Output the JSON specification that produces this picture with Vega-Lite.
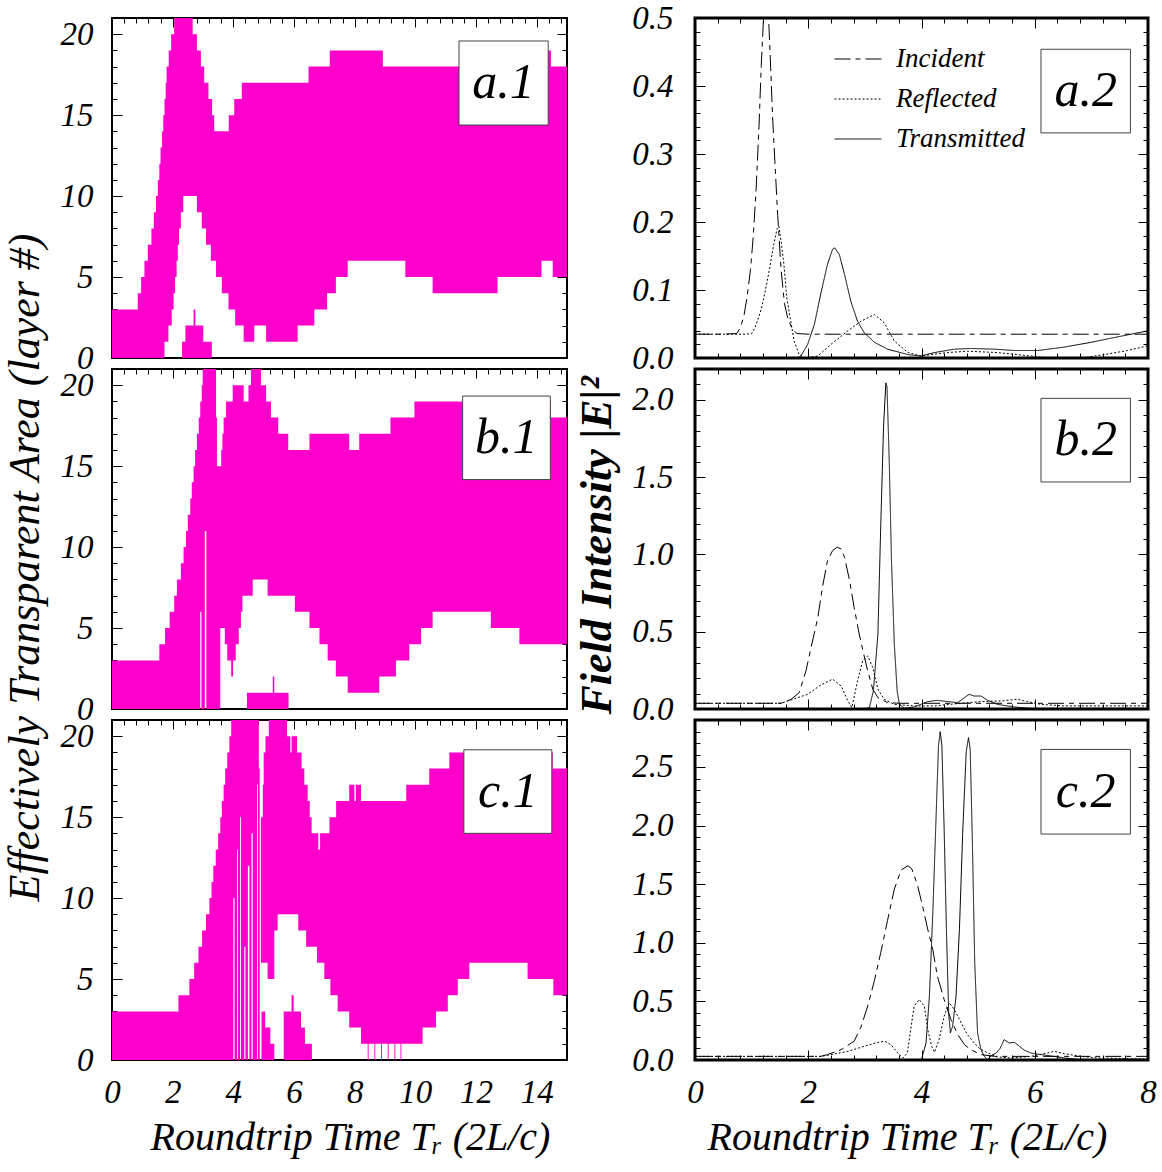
{
"$schema": "https://vega.github.io/schema/vega-lite/v6.json",
"background": "white",
"padding": {"left": 1, "top": 0, "right": 5, "bottom": 5},
"spacing": 583,
"bounds": "flush",
"resolve": {"scale": {"strokeDash": "independent"}, "legend": {"strokeDash": "independent"}},
"config": {
  "view": {"stroke": "black", "strokeWidth": 2},
  "axis": {"domain": false, "grid": false, "tickColor": "black", "tickWidth": 1, "labelFont": "Liberation Serif", "labelFontStyle": "italic", "labelFontSize": 33, "labelColor": "black", "labelFlush": false, "labelOverlap": false, "titleFont": "Liberation Serif", "titleFontStyle": "italic", "titleFontWeight": "normal", "titleColor": "black", "titleFontSize": 40}
},
"hconcat": [
{
 "vconcat": [
 {
  "width": 455, "height": 340,
  "layer": [
   {
    "data": {"values": [
{"t":0,"lo":0,"hi":3,"b":"m"},{"t":0.85,"lo":0,"hi":4,"b":"m"},{"t":0.96,"lo":0,"hi":5,"b":"m"},{"t":1.07,"lo":0,"hi":6,"b":"m"},{"t":1.18,"lo":0,"hi":7,"b":"m"},{"t":1.30,"lo":0,"hi":8,"b":"m"},{"t":1.38,"lo":0,"hi":9,"b":"m"},{"t":1.45,"lo":0,"hi":10,"b":"m"},{"t":1.51,"lo":0,"hi":11,"b":"m"},{"t":1.56,"lo":0,"hi":12,"b":"m"},{"t":1.60,"lo":0,"hi":13,"b":"m"},{"t":1.65,"lo":0,"hi":14,"b":"m"},{"t":1.69,"lo":0,"hi":15,"b":"m"},{"t":1.73,"lo":1,"hi":16,"b":"m"},{"t":1.77,"lo":1,"hi":17,"b":"m"},{"t":1.80,"lo":1,"hi":18,"b":"m"},{"t":1.86,"lo":2,"hi":18,"b":"m"},{"t":1.87,"lo":2,"hi":19,"b":"m"},{"t":1.95,"lo":2,"hi":20,"b":"m"},{"t":1.97,"lo":3,"hi":20,"b":"m"},{"t":2.03,"lo":4,"hi":20,"b":"m"},{"t":2.05,"lo":4,"hi":21,"b":"m"},{"t":2.08,"lo":5,"hi":21,"b":"m"},{"t":2.13,"lo":6,"hi":21,"b":"m"},{"t":2.17,"lo":7,"hi":21,"b":"m"},{"t":2.21,"lo":8,"hi":21,"b":"m"},{"t":2.27,"lo":9,"hi":21,"b":"m"},{"t":2.35,"lo":10,"hi":21,"b":"m"},{"t":2.66,"lo":10,"hi":20,"b":"m"},{"t":2.80,"lo":9,"hi":19,"b":"m"},{"t":2.93,"lo":9,"hi":18,"b":"m"},{"t":2.96,"lo":8,"hi":18,"b":"m"},{"t":3.04,"lo":8,"hi":17,"b":"m"},{"t":3.10,"lo":7,"hi":17,"b":"m"},{"t":3.18,"lo":7,"hi":16,"b":"m"},{"t":3.26,"lo":6,"hi":16,"b":"m"},{"t":3.30,"lo":6,"hi":15,"b":"m"},{"t":3.37,"lo":6,"hi":14,"b":"m"},{"t":3.43,"lo":5,"hi":14,"b":"m"},{"t":3.62,"lo":4,"hi":14,"b":"m"},{"t":3.84,"lo":3,"hi":14,"b":"m"},{"t":3.85,"lo":3,"hi":15,"b":"m"},{"t":4.03,"lo":3,"hi":16,"b":"m"},{"t":4.06,"lo":2,"hi":16,"b":"m"},{"t":4.28,"lo":2,"hi":17,"b":"m"},{"t":4.34,"lo":1,"hi":17,"b":"m"},{"t":4.69,"lo":2,"hi":17,"b":"m"},{"t":5.08,"lo":1,"hi":17,"b":"m"},{"t":6.12,"lo":2,"hi":17,"b":"m"},{"t":6.48,"lo":2,"hi":18,"b":"m"},{"t":6.67,"lo":3,"hi":18,"b":"m"},{"t":7.09,"lo":4,"hi":18,"b":"m"},{"t":7.18,"lo":4,"hi":19,"b":"m"},{"t":7.38,"lo":5,"hi":19,"b":"m"},{"t":7.77,"lo":6,"hi":19,"b":"m"},{"t":8.93,"lo":6,"hi":18,"b":"m"},{"t":9.67,"lo":5,"hi":18,"b":"m"},{"t":10.57,"lo":4,"hi":18,"b":"m"},{"t":12.71,"lo":5,"hi":18,"b":"m"},{"t":14.16,"lo":6,"hi":18,"b":"m"},{"t":14.36,"lo":6,"hi":19,"b":"m"},{"t":14.47,"lo":6,"hi":18,"b":"m"},{"t":14.53,"lo":5,"hi":18,"b":"m"},{"t":15,"lo":5,"hi":18,"b":"m"},
{"t":2.31,"lo":0,"hi":1,"b":"i1"},{"t":2.42,"lo":0,"hi":2,"b":"i1"},{"t":2.69,"lo":0,"hi":3,"b":"i1"},{"t":2.75,"lo":0,"hi":2,"b":"i1"},{"t":3.01,"lo":0,"hi":1,"b":"i1"},{"t":3.29,"lo":0,"hi":1,"b":"i1"}
    ]},
    "mark": {"type": "area", "interpolate": "step-after", "color": "#ff00cc", "clip": true},
    "encoding": {
     "x": {"field": "t", "type": "quantitative", "scale": {"domain": [0, 15], "nice": false, "zero": false}, "axis": null},
     "y": {"field": "hi", "type": "quantitative", "stack": null, "scale": {"domain": [0, 21], "nice": false}, "axis": {"orient": "left", "values": [0,1,2,3,4,5,6,7,8,9,10,11,12,13,14,15,16,17,18,19,20], "tickSize": {"condition": {"test": "datum.value % 5 === 0", "value": -10}, "value": -5}, "labelExpr": "datum.value % 5 === 0 ? datum.label : ''", "labelOverlap": false, "labelPadding": 29, "title": null}},
     "y2": {"field": "lo"},
     "detail": {"field": "b"}
    }
   },
   {
    "data": {"values": [{"x1": 11.44, "x2": 14.38, "y1": 14.39, "y2": 19.58}]},
    "mark": {"type": "rect", "fill": "white", "stroke": "#444444", "strokeWidth": 1},
    "encoding": {
     "x": {"field": "x1", "type": "quantitative", "axis": {"orient": "top", "values": [0,0.4,0.8,1.2,1.6,2,2.4,2.8,3.2,3.6,4,4.4,4.8,5.2,5.6,6,6.4,6.8,7.2,7.6,8,8.4,8.8,9.2,9.6,10,10.4,10.8,11.2,11.6,12,12.4,12.8,13.2,13.6,14,14.4,14.8], "labels": false, "tickSize": {"condition": {"test": "datum.value % 2 === 0", "value": -9}, "value": -5}, "title": null}},
     "x2": {"field": "x2"},
     "y": {"field": "y1", "type": "quantitative", "axis": {"orient": "right", "values": [0,1,2,3,4,5,6,7,8,9,10,11,12,13,14,15,16,17,18,19,20], "labels": false, "tickSize": {"condition": {"test": "datum.value % 5 === 0", "value": -10}, "value": -5}, "title": null}},
     "y2": {"field": "y2"}
    }
   },
   {
    "data": {"values": [{"xc": 12.91, "yc": 16.98, "lab": "a.1"}]},
    "mark": {"type": "text", "font": "Liberation Serif", "fontStyle": "italic", "fontSize": 50, "align": "center", "baseline": "middle", "color": "black"},
    "encoding": {
     "x": {"field": "xc", "type": "quantitative", "axis": null},
     "y": {"field": "yc", "type": "quantitative", "axis": null},
     "text": {"field": "lab"}
    }
   }
  ],
  "resolve": {"axis": {"x": "independent", "y": "independent"}}
 },
 {
  "width": 455, "height": 340,
  "layer": [
   {
    "data": {"values": [
{"t":0,"lo":0,"hi":3,"b":"m"},{"t":1.56,"lo":0,"hi":4,"b":"m"},{"t":1.75,"lo":0,"hi":5,"b":"m"},{"t":1.90,"lo":0,"hi":6,"b":"m"},{"t":2.05,"lo":0,"hi":7,"b":"m"},{"t":2.14,"lo":0,"hi":8,"b":"m"},{"t":2.27,"lo":0,"hi":9,"b":"m"},{"t":2.36,"lo":0,"hi":10,"b":"m"},{"t":2.44,"lo":0,"hi":11,"b":"m"},{"t":2.50,"lo":0,"hi":12,"b":"m"},{"t":2.58,"lo":0,"hi":13,"b":"m"},{"t":2.63,"lo":0,"hi":14,"b":"m"},{"t":2.69,"lo":0,"hi":15,"b":"m"},{"t":2.74,"lo":0,"hi":16,"b":"m"},{"t":2.80,"lo":0,"hi":17,"b":"m"},{"t":2.86,"lo":0,"hi":18,"b":"m"},{"t":2.91,"lo":6,"hi":19,"b":"m"},{"t":2.95,"lo":0,"hi":19,"b":"m"},{"t":2.96,"lo":0,"hi":20,"b":"m"},{"t":2.99,"lo":0,"hi":21,"b":"m"},{"t":3.06,"lo":11,"hi":21,"b":"m"},{"t":3.11,"lo":0,"hi":21,"b":"m"},{"t":3.43,"lo":0,"hi":18,"b":"m"},{"t":3.46,"lo":0,"hi":15,"b":"m"},{"t":3.57,"lo":5,"hi":15,"b":"m"},{"t":3.60,"lo":5,"hi":16,"b":"m"},{"t":3.64,"lo":5,"hi":17,"b":"m"},{"t":3.68,"lo":5,"hi":18,"b":"m"},{"t":3.72,"lo":4,"hi":18,"b":"m"},{"t":3.76,"lo":4,"hi":19,"b":"m"},{"t":3.80,"lo":3,"hi":19,"b":"m"},{"t":3.93,"lo":2,"hi":19,"b":"m"},{"t":3.98,"lo":2,"hi":20,"b":"m"},{"t":3.99,"lo":3,"hi":20,"b":"m"},{"t":4.08,"lo":4,"hi":20,"b":"m"},{"t":4.18,"lo":5,"hi":20,"b":"m"},{"t":4.25,"lo":6,"hi":20,"b":"m"},{"t":4.30,"lo":7,"hi":20,"b":"m"},{"t":4.34,"lo":7,"hi":19,"b":"m"},{"t":4.50,"lo":7,"hi":20,"b":"m"},{"t":4.58,"lo":7,"hi":21,"b":"m"},{"t":4.64,"lo":8,"hi":21,"b":"m"},{"t":4.91,"lo":8,"hi":20,"b":"m"},{"t":5.08,"lo":8,"hi":19,"b":"m"},{"t":5.13,"lo":7,"hi":19,"b":"m"},{"t":5.24,"lo":7,"hi":18,"b":"m"},{"t":5.48,"lo":7,"hi":17,"b":"m"},{"t":5.81,"lo":7,"hi":16,"b":"m"},{"t":6.03,"lo":6,"hi":16,"b":"m"},{"t":6.51,"lo":5,"hi":17,"b":"m"},{"t":6.84,"lo":4,"hi":17,"b":"m"},{"t":7.11,"lo":3,"hi":17,"b":"m"},{"t":7.38,"lo":2,"hi":17,"b":"m"},{"t":7.77,"lo":1,"hi":17,"b":"m"},{"t":7.82,"lo":1,"hi":16,"b":"m"},{"t":8.15,"lo":1,"hi":17,"b":"m"},{"t":8.81,"lo":2,"hi":17,"b":"m"},{"t":9.18,"lo":2,"hi":18,"b":"m"},{"t":9.36,"lo":3,"hi":18,"b":"m"},{"t":9.80,"lo":4,"hi":18,"b":"m"},{"t":9.97,"lo":4,"hi":19,"b":"m"},{"t":10.19,"lo":5,"hi":19,"b":"m"},{"t":10.57,"lo":6,"hi":19,"b":"m"},{"t":12.49,"lo":5,"hi":19,"b":"m"},{"t":13.43,"lo":4,"hi":19,"b":"m"},{"t":14.47,"lo":4,"hi":18,"b":"m"},{"t":15,"lo":4,"hi":18,"b":"m"},
{"t":4.45,"lo":0,"hi":1,"b":"i1"},{"t":5.30,"lo":0,"hi":2,"b":"i1"},{"t":5.35,"lo":0,"hi":1,"b":"i1"},{"t":5.82,"lo":0,"hi":1,"b":"i1"}
    ]},
    "mark": {"type": "area", "interpolate": "step-after", "color": "#ff00cc", "clip": true},
    "encoding": {
     "x": {"field": "t", "type": "quantitative", "scale": {"domain": [0, 15], "nice": false, "zero": false}, "axis": null},
     "y": {"field": "hi", "type": "quantitative", "stack": null, "scale": {"domain": [0, 21], "nice": false}, "axis": {"orient": "left", "values": [0,1,2,3,4,5,6,7,8,9,10,11,12,13,14,15,16,17,18,19,20], "tickSize": {"condition": {"test": "datum.value % 5 === 0", "value": -10}, "value": -5}, "labelExpr": "datum.value % 5 === 0 ? datum.label : ''", "labelOverlap": false, "labelPadding": 29, "title": "Effectively Transparent Area (layer #)", "titleFontSize": 44, "titleX": -74, "titleY": 198, "titleAngle": 270, "titleAlign": "center", "titleBaseline": "alphabetic"}},
     "y2": {"field": "lo"},
     "detail": {"field": "b"}
    }
   },
   {
    "data": {"values": [{"x1": 11.56, "x2": 14.45, "y1": 14.17, "y2": 19.33}]},
    "mark": {"type": "rect", "fill": "white", "stroke": "#444444", "strokeWidth": 1},
    "encoding": {
     "x": {"field": "x1", "type": "quantitative", "axis": {"orient": "top", "values": [0,0.4,0.8,1.2,1.6,2,2.4,2.8,3.2,3.6,4,4.4,4.8,5.2,5.6,6,6.4,6.8,7.2,7.6,8,8.4,8.8,9.2,9.6,10,10.4,10.8,11.2,11.6,12,12.4,12.8,13.2,13.6,14,14.4,14.8], "labels": false, "tickSize": {"condition": {"test": "datum.value % 2 === 0", "value": -9}, "value": -5}, "title": null}},
     "x2": {"field": "x2"},
     "y": {"field": "y1", "type": "quantitative", "axis": {"orient": "right", "values": [0,1,2,3,4,5,6,7,8,9,10,11,12,13,14,15,16,17,18,19,20], "labels": false, "tickSize": {"condition": {"test": "datum.value % 5 === 0", "value": -10}, "value": -5}, "title": null}},
     "y2": {"field": "y2"}
    }
   },
   {
    "data": {"values": [{"xc": 13.0, "yc": 16.75, "lab": "b.1"}]},
    "mark": {"type": "text", "font": "Liberation Serif", "fontStyle": "italic", "fontSize": 50, "align": "center", "baseline": "middle", "color": "black"},
    "encoding": {
     "x": {"field": "xc", "type": "quantitative", "axis": null},
     "y": {"field": "yc", "type": "quantitative", "axis": null},
     "text": {"field": "lab"}
    }
   }
  ],
  "resolve": {"axis": {"x": "independent", "y": "independent"}}
 },
 {
  "width": 455, "height": 340,
  "layer": [
   {
    "data": {"values": [
{"t":0,"lo":0,"hi":3,"b":"m"},{"t":2.19,"lo":0,"hi":4,"b":"m"},{"t":2.55,"lo":0,"hi":5,"b":"m"},{"t":2.71,"lo":0,"hi":6,"b":"m"},{"t":2.85,"lo":0,"hi":7,"b":"m"},{"t":2.97,"lo":0,"hi":8,"b":"m"},{"t":3.10,"lo":0,"hi":9,"b":"m"},{"t":3.21,"lo":0,"hi":10,"b":"m"},{"t":3.28,"lo":0,"hi":11,"b":"m"},{"t":3.34,"lo":0,"hi":12,"b":"m"},{"t":3.42,"lo":0,"hi":13,"b":"m"},{"t":3.50,"lo":0,"hi":14,"b":"m"},{"t":3.57,"lo":0,"hi":15,"b":"m"},{"t":3.62,"lo":0,"hi":16,"b":"m"},{"t":3.68,"lo":0,"hi":17,"b":"m"},{"t":3.73,"lo":0,"hi":18,"b":"m"},{"t":3.80,"lo":0,"hi":19,"b":"m"},{"t":3.87,"lo":0,"hi":20,"b":"m"},{"t":3.93,"lo":0,"hi":21,"b":"m"},{"t":4.00,"lo":10,"hi":21,"b":"m"},{"t":4.04,"lo":0,"hi":21,"b":"m"},{"t":4.12,"lo":13,"hi":21,"b":"m"},{"t":4.15,"lo":0,"hi":21,"b":"m"},{"t":4.22,"lo":15,"hi":21,"b":"m"},{"t":4.25,"lo":0,"hi":21,"b":"m"},{"t":4.36,"lo":7,"hi":21,"b":"m"},{"t":4.40,"lo":0,"hi":21,"b":"m"},{"t":4.48,"lo":12,"hi":21,"b":"m"},{"t":4.53,"lo":0,"hi":21,"b":"m"},{"t":4.60,"lo":14,"hi":21,"b":"m"},{"t":4.64,"lo":0,"hi":21,"b":"m"},{"t":4.78,"lo":17,"hi":21,"b":"m"},{"t":4.81,"lo":0,"hi":21,"b":"m"},{"t":4.84,"lo":0,"hi":18,"b":"m"},{"t":4.87,"lo":15,"hi":15,"b":"m"},{"t":4.91,"lo":6,"hi":15,"b":"m"},{"t":4.97,"lo":6,"hi":17,"b":"m"},{"t":5.00,"lo":6,"hi":19,"b":"m"},{"t":5.06,"lo":6,"hi":20,"b":"m"},{"t":5.13,"lo":5,"hi":20,"b":"m"},{"t":5.17,"lo":5,"hi":21,"b":"m"},{"t":5.35,"lo":8,"hi":21,"b":"m"},{"t":5.46,"lo":9,"hi":21,"b":"m"},{"t":5.77,"lo":9,"hi":20,"b":"m"},{"t":5.88,"lo":9,"hi":19,"b":"m"},{"t":5.92,"lo":9,"hi":20,"b":"m"},{"t":6.10,"lo":9,"hi":19,"b":"m"},{"t":6.14,"lo":8,"hi":19,"b":"m"},{"t":6.25,"lo":8,"hi":18,"b":"m"},{"t":6.34,"lo":8,"hi":17,"b":"m"},{"t":6.40,"lo":7,"hi":17,"b":"m"},{"t":6.45,"lo":7,"hi":16,"b":"m"},{"t":6.52,"lo":7,"hi":15,"b":"m"},{"t":6.58,"lo":7,"hi":14,"b":"m"},{"t":6.76,"lo":6,"hi":14,"b":"m"},{"t":6.80,"lo":6,"hi":13,"b":"m"},{"t":6.86,"lo":6,"hi":14,"b":"m"},{"t":7.00,"lo":5,"hi":14,"b":"m"},{"t":7.17,"lo":5,"hi":15,"b":"m"},{"t":7.20,"lo":4,"hi":15,"b":"m"},{"t":7.39,"lo":4,"hi":16,"b":"m"},{"t":7.44,"lo":3,"hi":16,"b":"m"},{"t":7.82,"lo":2,"hi":17,"b":"m"},{"t":7.99,"lo":2,"hi":16,"b":"m"},{"t":8.04,"lo":2,"hi":17,"b":"m"},{"t":8.21,"lo":1,"hi":16,"b":"m"},{"t":8.43,"lo":0,"hi":16,"b":"m"},{"t":8.46,"lo":1,"hi":16,"b":"m"},{"t":8.65,"lo":0,"hi":16,"b":"m"},{"t":8.68,"lo":1,"hi":16,"b":"m"},{"t":8.87,"lo":0,"hi":16,"b":"m"},{"t":8.90,"lo":1,"hi":16,"b":"m"},{"t":9.09,"lo":0,"hi":16,"b":"m"},{"t":9.12,"lo":1,"hi":16,"b":"m"},{"t":9.31,"lo":0,"hi":16,"b":"m"},{"t":9.34,"lo":1,"hi":16,"b":"m"},{"t":9.51,"lo":0,"hi":16,"b":"m"},{"t":9.54,"lo":1,"hi":16,"b":"m"},{"t":9.70,"lo":1,"hi":17,"b":"m"},{"t":10.24,"lo":2,"hi":17,"b":"m"},{"t":10.46,"lo":2,"hi":18,"b":"m"},{"t":10.68,"lo":3,"hi":18,"b":"m"},{"t":11.07,"lo":4,"hi":18,"b":"m"},{"t":11.12,"lo":4,"hi":19,"b":"m"},{"t":11.40,"lo":5,"hi":19,"b":"m"},{"t":11.78,"lo":6,"hi":19,"b":"m"},{"t":13.70,"lo":5,"hi":19,"b":"m"},{"t":14.53,"lo":5,"hi":18,"b":"m"},{"t":14.55,"lo":4,"hi":18,"b":"m"},{"t":15,"lo":4,"hi":18,"b":"m"},
{"t":4.93,"lo":0,"hi":3,"b":"i1"},{"t":5.05,"lo":0,"hi":2,"b":"i1"},{"t":5.22,"lo":0,"hi":1,"b":"i1"},{"t":5.35,"lo":0,"hi":1,"b":"i1"},
{"t":5.66,"lo":0,"hi":3,"b":"i2"},{"t":5.92,"lo":0,"hi":4,"b":"i2"},{"t":5.99,"lo":0,"hi":3,"b":"i2"},{"t":6.23,"lo":0,"hi":2,"b":"i2"},{"t":6.36,"lo":0,"hi":1,"b":"i2"},{"t":6.59,"lo":0,"hi":1,"b":"i2"}
    ]},
    "mark": {"type": "area", "interpolate": "step-after", "color": "#ff00cc", "clip": true},
    "encoding": {
     "x": {"field": "t", "type": "quantitative", "scale": {"domain": [0, 15], "nice": false, "zero": false}, "axis": {"orient": "bottom", "values": [0,2,4,6,8,10,12,14], "format": "d", "ticks": false, "tickSize": 0, "labelPadding": 16, "labelOverlap": false, "labelFlush": false, "title": "Roundtrip Time Tᵣ (2L/c)", "titleX": 238, "titleY": 89, "titleAlign": "center", "titleBaseline": "alphabetic", "titleAngle": 0}},
     "y": {"field": "hi", "type": "quantitative", "stack": null, "scale": {"domain": [0, 21], "nice": false}, "axis": {"orient": "left", "values": [0,1,2,3,4,5,6,7,8,9,10,11,12,13,14,15,16,17,18,19,20], "tickSize": {"condition": {"test": "datum.value % 5 === 0", "value": -10}, "value": -5}, "labelExpr": "datum.value % 5 === 0 ? datum.label : ''", "labelOverlap": false, "labelPadding": 29, "title": null}},
     "y2": {"field": "lo"},
     "detail": {"field": "b"}
    }
   },
   {
    "data": {"values": [{"x1": 11.6, "x2": 14.5, "y1": 14.0, "y2": 19.16}]},
    "mark": {"type": "rect", "fill": "white", "stroke": "#444444", "strokeWidth": 1},
    "encoding": {
     "x": {"field": "x1", "type": "quantitative", "axis": {"orient": "top", "values": [0,0.4,0.8,1.2,1.6,2,2.4,2.8,3.2,3.6,4,4.4,4.8,5.2,5.6,6,6.4,6.8,7.2,7.6,8,8.4,8.8,9.2,9.6,10,10.4,10.8,11.2,11.6,12,12.4,12.8,13.2,13.6,14,14.4,14.8], "labels": false, "tickSize": {"condition": {"test": "datum.value % 2 === 0", "value": -9}, "value": -5}, "title": null}},
     "x2": {"field": "x2"},
     "y": {"field": "y1", "type": "quantitative", "axis": {"orient": "right", "values": [0,1,2,3,4,5,6,7,8,9,10,11,12,13,14,15,16,17,18,19,20], "labels": false, "tickSize": {"condition": {"test": "datum.value % 5 === 0", "value": -10}, "value": -5}, "title": null}},
     "y2": {"field": "y2"}
    }
   },
   {
    "data": {"values": [{"xc": 13.05, "yc": 16.58, "lab": "c.1"}]},
    "mark": {"type": "text", "font": "Liberation Serif", "fontStyle": "italic", "fontSize": 50, "align": "center", "baseline": "middle", "color": "black"},
    "encoding": {
     "x": {"field": "xc", "type": "quantitative", "axis": null},
     "y": {"field": "yc", "type": "quantitative", "axis": null},
     "text": {"field": "lab"}
    }
   }
  ],
  "resolve": {"axis": {"x": "independent", "y": "independent"}}
 }
 ],
 "spacing": 11,
 "bounds": "flush"
},
{
 "vconcat": [
 {
  "width": 453, "height": 340,
  "view": {"stroke": "black", "strokeWidth": 3},
  "layer": [
   {
    "data": {"values": [
{"t":0,"v":0.035,"s":"Incident"},{"t":0.5,"v":0.035,"s":"Incident"},{"t":0.74,"v":0.036,"s":"Incident"},{"t":0.80,"v":0.045,"s":"Incident"},{"t":0.86,"v":0.06,"s":"Incident"},{"t":0.92,"v":0.09,"s":"Incident"},{"t":0.98,"v":0.13,"s":"Incident"},{"t":1.03,"v":0.18,"s":"Incident"},{"t":1.08,"v":0.25,"s":"Incident"},{"t":1.13,"v":0.34,"s":"Incident"},{"t":1.17,"v":0.43,"s":"Incident"},{"t":1.21,"v":0.50,"s":"Incident"},{"t":1.25,"v":0.55,"s":"Incident"},{"t":1.29,"v":0.52,"s":"Incident"},{"t":1.33,"v":0.44,"s":"Incident"},{"t":1.37,"v":0.355,"s":"Incident"},{"t":1.41,"v":0.29,"s":"Incident"},{"t":1.46,"v":0.21,"s":"Incident"},{"t":1.52,"v":0.13,"s":"Incident"},{"t":1.58,"v":0.08,"s":"Incident"},{"t":1.64,"v":0.058,"s":"Incident"},{"t":1.72,"v":0.042,"s":"Incident"},{"t":1.80,"v":0.036,"s":"Incident"},{"t":2.0,"v":0.035,"s":"Incident"},{"t":8.0,"v":0.035,"s":"Incident"},
{"t":0,"v":0.035,"s":"Reflected"},{"t":0.9,"v":0.035,"s":"Reflected"},{"t":1.0,"v":0.036,"s":"Reflected"},{"t":1.06,"v":0.045,"s":"Reflected"},{"t":1.11,"v":0.056,"s":"Reflected"},{"t":1.17,"v":0.072,"s":"Reflected"},{"t":1.22,"v":0.09,"s":"Reflected"},{"t":1.31,"v":0.128,"s":"Reflected"},{"t":1.39,"v":0.167,"s":"Reflected"},{"t":1.45,"v":0.19,"s":"Reflected"},{"t":1.48,"v":0.194,"s":"Reflected"},{"t":1.52,"v":0.172,"s":"Reflected"},{"t":1.57,"v":0.138,"s":"Reflected"},{"t":1.62,"v":0.089,"s":"Reflected"},{"t":1.70,"v":0.05,"s":"Reflected"},{"t":1.75,"v":0.025,"s":"Reflected"},{"t":1.84,"v":0.005,"s":"Reflected"},{"t":1.95,"v":0.0,"s":"Reflected"},{"t":2.17,"v":0.003,"s":"Reflected"},{"t":2.40,"v":0.02,"s":"Reflected"},{"t":2.70,"v":0.04,"s":"Reflected"},{"t":2.93,"v":0.054,"s":"Reflected"},{"t":3.17,"v":0.064,"s":"Reflected"},{"t":3.34,"v":0.052,"s":"Reflected"},{"t":3.52,"v":0.025,"s":"Reflected"},{"t":3.76,"v":0.008,"s":"Reflected"},{"t":3.99,"v":0.003,"s":"Reflected"},{"t":4.46,"v":0.008,"s":"Reflected"},{"t":4.81,"v":0.01,"s":"Reflected"},{"t":5.34,"v":0.008,"s":"Reflected"},{"t":5.93,"v":0.003,"s":"Reflected"},{"t":6.23,"v":0.0,"s":"Reflected"},{"t":6.82,"v":0.0,"s":"Reflected"},{"t":7.23,"v":0.005,"s":"Reflected"},{"t":7.64,"v":0.011,"s":"Reflected"},{"t":8.0,"v":0.018,"s":"Reflected"},
{"t":1.80,"v":0.0,"s":"Transmitted"},{"t":1.87,"v":0.003,"s":"Transmitted"},{"t":1.99,"v":0.02,"s":"Transmitted"},{"t":2.11,"v":0.05,"s":"Transmitted"},{"t":2.22,"v":0.094,"s":"Transmitted"},{"t":2.34,"v":0.138,"s":"Transmitted"},{"t":2.43,"v":0.16,"s":"Transmitted"},{"t":2.47,"v":0.162,"s":"Transmitted"},{"t":2.55,"v":0.152,"s":"Transmitted"},{"t":2.64,"v":0.123,"s":"Transmitted"},{"t":2.75,"v":0.084,"s":"Transmitted"},{"t":2.87,"v":0.054,"s":"Transmitted"},{"t":2.99,"v":0.037,"s":"Transmitted"},{"t":3.17,"v":0.023,"s":"Transmitted"},{"t":3.40,"v":0.013,"s":"Transmitted"},{"t":3.76,"v":0.005,"s":"Transmitted"},{"t":3.99,"v":0.003,"s":"Transmitted"},{"t":4.23,"v":0.008,"s":"Transmitted"},{"t":4.58,"v":0.013,"s":"Transmitted"},{"t":4.87,"v":0.014,"s":"Transmitted"},{"t":5.29,"v":0.013,"s":"Transmitted"},{"t":5.64,"v":0.011,"s":"Transmitted"},{"t":6.05,"v":0.011,"s":"Transmitted"},{"t":6.52,"v":0.016,"s":"Transmitted"},{"t":6.99,"v":0.023,"s":"Transmitted"},{"t":7.40,"v":0.03,"s":"Transmitted"},{"t":7.76,"v":0.036,"s":"Transmitted"},{"t":8.0,"v":0.04,"s":"Transmitted"}
    ]},
    "mark": {"type": "line", "color": "black", "strokeWidth": 1, "clip": true},
    "encoding": {
     "x": {"field": "t", "type": "quantitative", "scale": {"domain": [0, 8], "nice": false, "zero": false}, "axis": {"orient": "bottom", "values": [0,0.4,0.8,1.2,1.6,2,2.4,2.8,3.2,3.6,4,4.4,4.8,5.2,5.6,6,6.4,6.8,7.2,7.6,8], "labels": false, "tickSize": {"condition": {"test": "datum.value % 2 === 0", "value": -10}, "value": -5}, "title": null}},
     "y": {"field": "v", "type": "quantitative", "scale": {"domain": [0, 0.5], "nice": false}, "axis": {"orient": "left", "values": [0,0.02,0.04,0.06,0.08,0.1,0.12,0.14,0.16,0.18,0.2,0.22,0.24,0.26,0.28,0.3,0.32,0.34,0.36,0.38,0.4,0.42,0.44,0.46,0.48,0.5], "format": ".1f", "tickSize": {"condition": {"test": "abs(datum.value * 10 - round(datum.value * 10)) < 0.001", "value": -10}, "value": -5}, "labelExpr": "abs(datum.value * 10 - round(datum.value * 10)) < 0.001 ? datum.label : ''", "labelOverlap": false, "labelPadding": 32, "title": null}},
     "strokeDash": {"field": "s", "type": "nominal", "scale": {"domain": ["Incident", "Reflected", "Transmitted"], "range": [[16, 5, 5, 5], [2, 2], [1, 0]]}, "legend": {"orient": "none", "legendX": 139, "legendY": 17, "title": null, "padding": 0, "symbolType": "stroke", "symbolSize": 2200, "symbolStrokeWidth": 1, "symbolStrokeColor": "black", "labelFont": "Liberation Serif", "labelFontStyle": "italic", "labelFontSize": 27, "labelColor": "black", "rowPadding": 3, "labelOffset": 14, "labelLimit": 0}}
    }
   },
   {
    "data": {"values": [{"x1": 6.11, "x2": 7.69, "y1": 0.331, "y2": 0.454}]},
    "mark": {"type": "rect", "fill": "white", "stroke": "#444444", "strokeWidth": 1},
    "encoding": {
     "x": {"field": "x1", "type": "quantitative", "axis": {"orient": "top", "values": [0,0.4,0.8,1.2,1.6,2,2.4,2.8,3.2,3.6,4,4.4,4.8,5.2,5.6,6,6.4,6.8,7.2,7.6,8], "labels": false, "tickSize": {"condition": {"test": "datum.value % 2 === 0", "value": -10}, "value": -5}, "title": null}},
     "x2": {"field": "x2"},
     "y": {"field": "y1", "type": "quantitative", "axis": {"orient": "right", "values": [0,0.02,0.04,0.06,0.08,0.1,0.12,0.14,0.16,0.18,0.2,0.22,0.24,0.26,0.28,0.3,0.32,0.34,0.36,0.38,0.4,0.42,0.44,0.46,0.48,0.5], "labels": false, "tickSize": {"condition": {"test": "abs(datum.value * 10 - round(datum.value * 10)) < 0.001", "value": -10}, "value": -5}, "title": null}},
     "y2": {"field": "y2"}
    }
   },
   {
    "data": {"values": [{"xc": 6.9, "yc": 0.3925, "lab": "a.2"}]},
    "mark": {"type": "text", "font": "Liberation Serif", "fontStyle": "italic", "fontSize": 50, "align": "center", "baseline": "middle", "color": "black"},
    "encoding": {
     "x": {"field": "xc", "type": "quantitative", "axis": null},
     "y": {"field": "yc", "type": "quantitative", "axis": null},
     "text": {"field": "lab"}
    }
   }
  ],
  "resolve": {"axis": {"x": "independent", "y": "independent"}}
 },
 {
  "width": 453, "height": 340,
  "view": {"stroke": "black", "strokeWidth": 3},
  "layer": [
   {
    "data": {"values": [
{"t":0,"v":0.037,"s":"Incident"},{"t":1.52,"v":0.037,"s":"Incident"},{"t":1.70,"v":0.063,"s":"Incident"},{"t":1.84,"v":0.106,"s":"Incident"},{"t":1.96,"v":0.247,"s":"Incident"},{"t":2.05,"v":0.398,"s":"Incident"},{"t":2.17,"v":0.593,"s":"Incident"},{"t":2.25,"v":0.787,"s":"Incident"},{"t":2.34,"v":0.96,"s":"Incident"},{"t":2.43,"v":1.025,"s":"Incident"},{"t":2.51,"v":1.047,"s":"Incident"},{"t":2.58,"v":1.036,"s":"Incident"},{"t":2.64,"v":0.982,"s":"Incident"},{"t":2.73,"v":0.831,"s":"Incident"},{"t":2.81,"v":0.658,"s":"Incident"},{"t":2.90,"v":0.485,"s":"Incident"},{"t":2.98,"v":0.355,"s":"Incident"},{"t":3.05,"v":0.247,"s":"Incident"},{"t":3.14,"v":0.128,"s":"Incident"},{"t":3.23,"v":0.074,"s":"Incident"},{"t":3.40,"v":0.041,"s":"Incident"},{"t":3.64,"v":0.037,"s":"Incident"},{"t":8.0,"v":0.037,"s":"Incident"},
{"t":0,"v":0.037,"s":"Reflected"},{"t":1.52,"v":0.037,"s":"Reflected"},{"t":1.64,"v":0.052,"s":"Reflected"},{"t":1.99,"v":0.095,"s":"Reflected"},{"t":2.22,"v":0.155,"s":"Reflected"},{"t":2.43,"v":0.193,"s":"Reflected"},{"t":2.58,"v":0.149,"s":"Reflected"},{"t":2.70,"v":0.052,"s":"Reflected"},{"t":2.77,"v":0.01,"s":"Reflected"},{"t":2.87,"v":0.18,"s":"Reflected"},{"t":2.96,"v":0.31,"s":"Reflected"},{"t":3.05,"v":0.344,"s":"Reflected"},{"t":3.14,"v":0.268,"s":"Reflected"},{"t":3.23,"v":0.128,"s":"Reflected"},{"t":3.34,"v":0.063,"s":"Reflected"},{"t":3.52,"v":0.03,"s":"Reflected"},{"t":3.87,"v":0.02,"s":"Reflected"},{"t":4.23,"v":0.02,"s":"Reflected"},{"t":4.64,"v":0.035,"s":"Reflected"},{"t":5.05,"v":0.048,"s":"Reflected"},{"t":5.40,"v":0.052,"s":"Reflected"},{"t":5.70,"v":0.063,"s":"Reflected"},{"t":5.87,"v":0.048,"s":"Reflected"},{"t":6.11,"v":0.03,"s":"Reflected"},{"t":6.52,"v":0.02,"s":"Reflected"},{"t":8.0,"v":0.02,"s":"Reflected"},
{"t":3.0,"v":0.0,"s":"Transmitted"},{"t":3.08,"v":0.01,"s":"Transmitted"},{"t":3.15,"v":0.117,"s":"Transmitted"},{"t":3.23,"v":0.485,"s":"Transmitted"},{"t":3.28,"v":1.18,"s":"Transmitted"},{"t":3.33,"v":1.83,"s":"Transmitted"},{"t":3.37,"v":2.11,"s":"Transmitted"},{"t":3.39,"v":2.09,"s":"Transmitted"},{"t":3.43,"v":1.61,"s":"Transmitted"},{"t":3.47,"v":0.96,"s":"Transmitted"},{"t":3.52,"v":0.42,"s":"Transmitted"},{"t":3.57,"v":0.117,"s":"Transmitted"},{"t":3.61,"v":0.03,"s":"Transmitted"},{"t":3.70,"v":0.004,"s":"Transmitted"},{"t":3.87,"v":0.013,"s":"Transmitted"},{"t":4.11,"v":0.048,"s":"Transmitted"},{"t":4.28,"v":0.056,"s":"Transmitted"},{"t":4.46,"v":0.048,"s":"Transmitted"},{"t":4.64,"v":0.041,"s":"Transmitted"},{"t":4.76,"v":0.074,"s":"Transmitted"},{"t":4.84,"v":0.095,"s":"Transmitted"},{"t":4.93,"v":0.084,"s":"Transmitted"},{"t":5.05,"v":0.084,"s":"Transmitted"},{"t":5.17,"v":0.056,"s":"Transmitted"},{"t":5.34,"v":0.03,"s":"Transmitted"},{"t":5.64,"v":0.013,"s":"Transmitted"},{"t":5.93,"v":0.004,"s":"Transmitted"},{"t":8.0,"v":0.004,"s":"Transmitted"}
    ]},
    "mark": {"type": "line", "color": "black", "strokeWidth": 1, "clip": true},
    "encoding": {
     "x": {"field": "t", "type": "quantitative", "scale": {"domain": [0, 8], "nice": false, "zero": false}, "axis": {"orient": "bottom", "values": [0,0.4,0.8,1.2,1.6,2,2.4,2.8,3.2,3.6,4,4.4,4.8,5.2,5.6,6,6.4,6.8,7.2,7.6,8], "labels": false, "tickSize": {"condition": {"test": "datum.value % 2 === 0", "value": -10}, "value": -5}, "title": null}},
     "y": {"field": "v", "type": "quantitative", "scale": {"domain": [0, 2.2], "nice": false}, "axis": {"orient": "left", "values": [0,0.1,0.2,0.3,0.4,0.5,0.6,0.7,0.8,0.9,1,1.1,1.2,1.3,1.4,1.5,1.6,1.7,1.8,1.9,2,2.1,2.2], "format": ".1f", "tickSize": {"condition": {"test": "abs(datum.value * 2 - round(datum.value * 2)) < 0.001", "value": -10}, "value": -5}, "labelExpr": "abs(datum.value * 2 - round(datum.value * 2)) < 0.001 ? datum.label : ''", "labelOverlap": false, "labelPadding": 32, "title": "Field Intensity |E|²", "titleFontWeight": "bold", "titleFontSize": 44, "titleX": -85, "titleY": 176, "titleAngle": 270, "titleAlign": "center", "titleBaseline": "alphabetic"}},
     "strokeDash": {"field": "s", "type": "nominal", "scale": {"domain": ["Incident", "Reflected", "Transmitted"], "range": [[16, 5, 5, 5], [2, 2], [1, 0]]}, "legend": null}
    }
   },
   {
    "data": {"values": [{"x1": 6.11, "x2": 7.69, "y1": 1.469, "y2": 2.01}]},
    "mark": {"type": "rect", "fill": "white", "stroke": "#444444", "strokeWidth": 1},
    "encoding": {
     "x": {"field": "x1", "type": "quantitative", "axis": {"orient": "top", "values": [0,0.4,0.8,1.2,1.6,2,2.4,2.8,3.2,3.6,4,4.4,4.8,5.2,5.6,6,6.4,6.8,7.2,7.6,8], "labels": false, "tickSize": {"condition": {"test": "datum.value % 2 === 0", "value": -10}, "value": -5}, "title": null}},
     "x2": {"field": "x2"},
     "y": {"field": "y1", "type": "quantitative", "axis": {"orient": "right", "values": [0,0.1,0.2,0.3,0.4,0.5,0.6,0.7,0.8,0.9,1,1.1,1.2,1.3,1.4,1.5,1.6,1.7,1.8,1.9,2,2.1,2.2], "labels": false, "tickSize": {"condition": {"test": "abs(datum.value * 2 - round(datum.value * 2)) < 0.001", "value": -10}, "value": -5}, "title": null}},
     "y2": {"field": "y2"}
    }
   },
   {
    "data": {"values": [{"xc": 6.9, "yc": 1.74, "lab": "b.2"}]},
    "mark": {"type": "text", "font": "Liberation Serif", "fontStyle": "italic", "fontSize": 50, "align": "center", "baseline": "middle", "color": "black"},
    "encoding": {
     "x": {"field": "xc", "type": "quantitative", "axis": null},
     "y": {"field": "yc", "type": "quantitative", "axis": null},
     "text": {"field": "lab"}
    }
   }
  ],
  "resolve": {"axis": {"x": "independent", "y": "independent"}}
 },
 {
  "width": 453, "height": 340,
  "view": {"stroke": "black", "strokeWidth": 3},
  "layer": [
   {
    "data": {"values": [
{"t":0,"v":0.031,"s":"Incident"},{"t":2.22,"v":0.031,"s":"Incident"},{"t":2.34,"v":0.046,"s":"Incident"},{"t":2.58,"v":0.088,"s":"Incident"},{"t":2.81,"v":0.16,"s":"Incident"},{"t":2.93,"v":0.28,"s":"Incident"},{"t":3.05,"v":0.46,"s":"Incident"},{"t":3.17,"v":0.68,"s":"Incident"},{"t":3.28,"v":0.915,"s":"Incident"},{"t":3.40,"v":1.19,"s":"Incident"},{"t":3.52,"v":1.457,"s":"Incident"},{"t":3.64,"v":1.62,"s":"Incident"},{"t":3.76,"v":1.657,"s":"Incident"},{"t":3.83,"v":1.63,"s":"Incident"},{"t":3.93,"v":1.49,"s":"Incident"},{"t":4.02,"v":1.31,"s":"Incident"},{"t":4.11,"v":1.115,"s":"Incident"},{"t":4.20,"v":0.94,"s":"Incident"},{"t":4.28,"v":0.716,"s":"Incident"},{"t":4.40,"v":0.516,"s":"Incident"},{"t":4.52,"v":0.345,"s":"Incident"},{"t":4.64,"v":0.217,"s":"Incident"},{"t":4.76,"v":0.131,"s":"Incident"},{"t":4.87,"v":0.088,"s":"Incident"},{"t":5.05,"v":0.046,"s":"Incident"},{"t":5.29,"v":0.031,"s":"Incident"},{"t":8.0,"v":0.031,"s":"Incident"},
{"t":0,"v":0.031,"s":"Reflected"},{"t":2.22,"v":0.031,"s":"Reflected"},{"t":2.40,"v":0.046,"s":"Reflected"},{"t":2.70,"v":0.074,"s":"Reflected"},{"t":2.99,"v":0.117,"s":"Reflected"},{"t":3.23,"v":0.151,"s":"Reflected"},{"t":3.35,"v":0.16,"s":"Reflected"},{"t":3.46,"v":0.131,"s":"Reflected"},{"t":3.58,"v":0.06,"s":"Reflected"},{"t":3.67,"v":0.017,"s":"Reflected"},{"t":3.75,"v":0.06,"s":"Reflected"},{"t":3.81,"v":0.26,"s":"Reflected"},{"t":3.87,"v":0.46,"s":"Reflected"},{"t":3.96,"v":0.516,"s":"Reflected"},{"t":4.05,"v":0.46,"s":"Reflected"},{"t":4.11,"v":0.26,"s":"Reflected"},{"t":4.18,"v":0.117,"s":"Reflected"},{"t":4.23,"v":0.066,"s":"Reflected"},{"t":4.31,"v":0.174,"s":"Reflected"},{"t":4.40,"v":0.374,"s":"Reflected"},{"t":4.49,"v":0.488,"s":"Reflected"},{"t":4.58,"v":0.43,"s":"Reflected"},{"t":4.70,"v":0.317,"s":"Reflected"},{"t":4.81,"v":0.217,"s":"Reflected"},{"t":4.93,"v":0.145,"s":"Reflected"},{"t":5.02,"v":0.10,"s":"Reflected"},{"t":5.17,"v":0.06,"s":"Reflected"},{"t":5.34,"v":0.026,"s":"Reflected"},{"t":5.58,"v":0.017,"s":"Reflected"},{"t":5.93,"v":0.031,"s":"Reflected"},{"t":6.23,"v":0.06,"s":"Reflected"},{"t":6.34,"v":0.074,"s":"Reflected"},{"t":6.52,"v":0.054,"s":"Reflected"},{"t":6.82,"v":0.031,"s":"Reflected"},{"t":7.11,"v":0.017,"s":"Reflected"},{"t":8.0,"v":0.009,"s":"Reflected"},
{"t":3.95,"v":0.0,"s":"Transmitted"},{"t":4.0,"v":0.003,"s":"Transmitted"},{"t":4.08,"v":0.145,"s":"Transmitted"},{"t":4.14,"v":0.545,"s":"Transmitted"},{"t":4.20,"v":1.257,"s":"Transmitted"},{"t":4.26,"v":2.11,"s":"Transmitted"},{"t":4.30,"v":2.68,"s":"Transmitted"},{"t":4.33,"v":2.80,"s":"Transmitted"},{"t":4.36,"v":2.68,"s":"Transmitted"},{"t":4.40,"v":1.97,"s":"Transmitted"},{"t":4.44,"v":1.115,"s":"Transmitted"},{"t":4.48,"v":0.40,"s":"Transmitted"},{"t":4.51,"v":0.23,"s":"Transmitted"},{"t":4.55,"v":0.288,"s":"Transmitted"},{"t":4.61,"v":0.545,"s":"Transmitted"},{"t":4.67,"v":1.115,"s":"Transmitted"},{"t":4.73,"v":1.97,"s":"Transmitted"},{"t":4.79,"v":2.63,"s":"Transmitted"},{"t":4.83,"v":2.75,"s":"Transmitted"},{"t":4.86,"v":2.65,"s":"Transmitted"},{"t":4.90,"v":1.83,"s":"Transmitted"},{"t":4.94,"v":0.83,"s":"Transmitted"},{"t":4.99,"v":0.23,"s":"Transmitted"},{"t":5.05,"v":0.088,"s":"Transmitted"},{"t":5.11,"v":0.031,"s":"Transmitted"},{"t":5.17,"v":0.003,"s":"Transmitted"},{"t":5.23,"v":0.037,"s":"Transmitted"},{"t":5.32,"v":0.06,"s":"Transmitted"},{"t":5.39,"v":0.10,"s":"Transmitted"},{"t":5.46,"v":0.174,"s":"Transmitted"},{"t":5.55,"v":0.145,"s":"Transmitted"},{"t":5.64,"v":0.151,"s":"Transmitted"},{"t":5.73,"v":0.117,"s":"Transmitted"},{"t":5.82,"v":0.083,"s":"Transmitted"},{"t":5.93,"v":0.06,"s":"Transmitted"},{"t":6.11,"v":0.046,"s":"Transmitted"},{"t":6.34,"v":0.031,"s":"Transmitted"},{"t":6.52,"v":0.017,"s":"Transmitted"},{"t":6.82,"v":0.003,"s":"Transmitted"},{"t":8.0,"v":0.003,"s":"Transmitted"}
    ]},
    "mark": {"type": "line", "color": "black", "strokeWidth": 1, "clip": true},
    "encoding": {
     "x": {"field": "t", "type": "quantitative", "scale": {"domain": [0, 8], "nice": false, "zero": false}, "axis": {"orient": "bottom", "values": [0,0.4,0.8,1.2,1.6,2,2.4,2.8,3.2,3.6,4,4.4,4.8,5.2,5.6,6,6.4,6.8,7.2,7.6,8], "tickSize": {"condition": {"test": "datum.value % 2 === 0", "value": -10}, "value": -5}, "labelExpr": "datum.value % 2 === 0 ? format(datum.value, '.0f') : ''", "labelOverlap": false, "labelPadding": 26, "labelFlush": false, "title": "Roundtrip Time Tᵣ (2L/c)", "titleX": 212, "titleY": 89, "titleAlign": "center", "titleBaseline": "alphabetic", "titleAngle": 0}},
     "y": {"field": "v", "type": "quantitative", "scale": {"domain": [0, 2.9], "nice": false}, "axis": {"orient": "left", "values": [0,0.1,0.2,0.3,0.4,0.5,0.6,0.7,0.8,0.9,1,1.1,1.2,1.3,1.4,1.5,1.6,1.7,1.8,1.9,2,2.1,2.2,2.3,2.4,2.5,2.6,2.7,2.8,2.9], "format": ".1f", "tickSize": {"condition": {"test": "abs(datum.value * 2 - round(datum.value * 2)) < 0.001", "value": -10}, "value": -5}, "labelExpr": "abs(datum.value * 2 - round(datum.value * 2)) < 0.001 ? datum.label : ''", "labelOverlap": false, "labelPadding": 32, "title": null}},
     "strokeDash": {"field": "s", "type": "nominal", "scale": {"domain": ["Incident", "Reflected", "Transmitted"], "range": [[16, 5, 5, 5], [2, 2], [1, 0]]}, "legend": null}
    }
   },
   {
    "data": {"values": [{"x1": 6.11, "x2": 7.69, "y1": 1.927, "y2": 2.649}]},
    "mark": {"type": "rect", "fill": "white", "stroke": "#444444", "strokeWidth": 1},
    "encoding": {
     "x": {"field": "x1", "type": "quantitative", "axis": {"orient": "top", "values": [0,0.4,0.8,1.2,1.6,2,2.4,2.8,3.2,3.6,4,4.4,4.8,5.2,5.6,6,6.4,6.8,7.2,7.6,8], "labels": false, "tickSize": {"condition": {"test": "datum.value % 2 === 0", "value": -10}, "value": -5}, "title": null}},
     "x2": {"field": "x2"},
     "y": {"field": "y1", "type": "quantitative", "axis": {"orient": "right", "values": [0,0.1,0.2,0.3,0.4,0.5,0.6,0.7,0.8,0.9,1,1.1,1.2,1.3,1.4,1.5,1.6,1.7,1.8,1.9,2,2.1,2.2,2.3,2.4,2.5,2.6,2.7,2.8,2.9], "labels": false, "tickSize": {"condition": {"test": "abs(datum.value * 2 - round(datum.value * 2)) < 0.001", "value": -10}, "value": -5}, "title": null}},
     "y2": {"field": "y2"}
    }
   },
   {
    "data": {"values": [{"xc": 6.9, "yc": 2.288, "lab": "c.2"}]},
    "mark": {"type": "text", "font": "Liberation Serif", "fontStyle": "italic", "fontSize": 50, "align": "center", "baseline": "middle", "color": "black"},
    "encoding": {
     "x": {"field": "xc", "type": "quantitative", "axis": null},
     "y": {"field": "yc", "type": "quantitative", "axis": null},
     "text": {"field": "lab"}
    }
   }
  ],
  "resolve": {"axis": {"x": "independent", "y": "independent"}}
 }
 ],
 "spacing": 11,
 "bounds": "flush",
 "resolve": {"scale": {"strokeDash": "independent"}, "legend": {"strokeDash": "independent"}}
}
]
}
